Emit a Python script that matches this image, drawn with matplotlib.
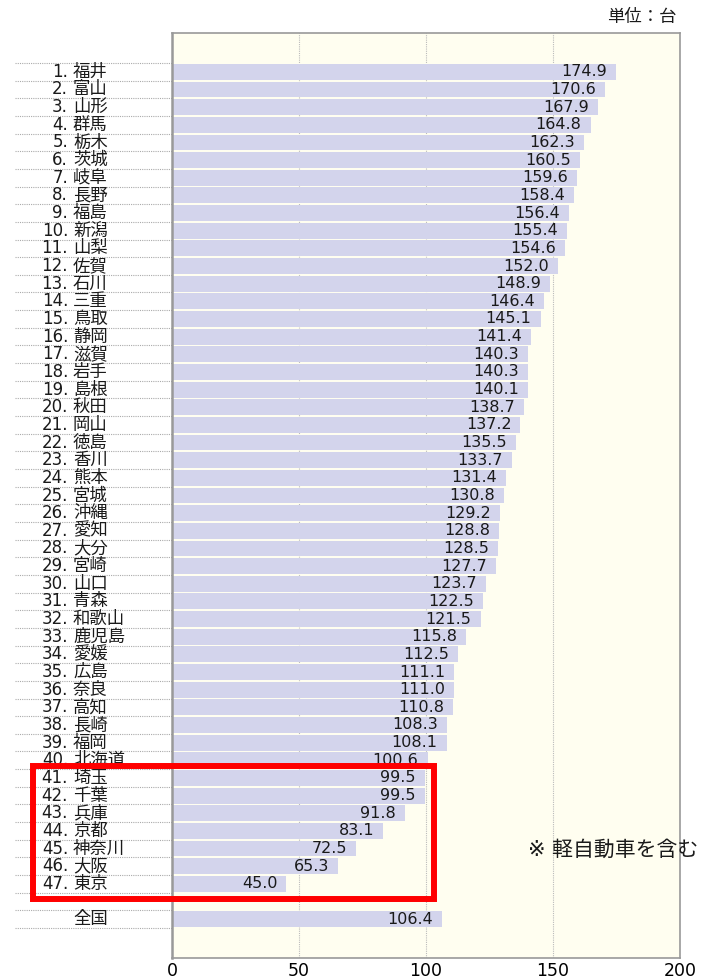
import matplotlib.pyplot as plt
from matplotlib.patches import Rectangle

plt.rcParams['font.family'] = ['DejaVu Sans', 'Noto Sans CJK JP']

ranks = [str(i) + '.' for i in range(1, 48)]
prefs = ['福井', '富山', '山形', '群馬', '栃木', '茨城', '岐阜', '長野', '福島', '新潟',
         '山梨', '佐賀', '石川', '三重', '鳥取', '静岡', '滋賀', '岩手', '島根', '秋田',
         '岡山', '徳島', '香川', '熊本', '宮城', '沖縄', '愛知', '大分', '宮崎', '山口',
         '青森', '和歌山', '鹿児島', '愛媛', '広島', '奈良', '高知', '長崎', '福岡', '北海道',
         '埼玉', '千葉', '兵庫', '京都', '神奈川', '大阪', '東京']
values = [174.9, 170.6, 167.9, 164.8, 162.3, 160.5, 159.6, 158.4, 156.4, 155.4,
          154.6, 152.0, 148.9, 146.4, 145.1, 141.4, 140.3, 140.3, 140.1, 138.7,
          137.2, 135.5, 133.7, 131.4, 130.8, 129.2, 128.8, 128.5, 127.7, 123.7,
          122.5, 121.5, 115.8, 112.5, 111.1, 111.0, 110.8, 108.3, 108.1, 100.6,
          99.5, 99.5, 91.8, 83.1, 72.5, 65.3, 45.0]
national_label = '全国'
national_value = 106.4
xticks = [0, 50, 100, 150, 200]

bar_color = '#d3d4ec'
bg_color = '#fffef0'

fig = plt.figure(figsize=(7.11, 9.8), dpi=100)
ax = fig.add_axes([172 / 711, 1 - 958 / 980, 508 / 711, 925 / 980])
ax.set_facecolor(bg_color)

# prefectures on rows 0..46, one blank row, national average on row 48
rows = list(range(len(prefs))) + [len(prefs) + 1]
all_vals = values + [national_value]
ax.barh(rows, all_vals, height=0.9, color=bar_color, zorder=2)

for y, v in zip(rows, all_vals):
    ax.annotate(f'{v:.1f}', (v, y), xytext=(-6.5, 0), textcoords='offset points',
                ha='right', va='center', fontsize=11.5, color='#1a1a1a', zorder=3)

ax.set_xlim(0, 200)
ax.set_ylim(50.2, -2.2)
ax.set_xticks(xticks)
ax.set_xticklabels([str(t) for t in xticks], fontsize=12.5)
ax.tick_params(axis='x', length=0, pad=3)
ax.set_yticks([])
ax.grid(axis='x', color='#bbbbbb', linestyle=(0, (1, 1)), linewidth=0.8, zorder=1)
for s in ax.spines.values():
    s.set_color('#999999')
    s.set_linewidth(1.2)
ax.spines['left'].set_linewidth(1.8)

# row labels and dotted separators left of the plot
tr = ax.get_yaxis_transform()
for i, (r, p) in enumerate(zip(ranks, prefs)):
    ax.text(-0.2047, i, r, transform=tr, ha='right', va='center', fontsize=12, color='#1a1a1a')
    ax.text(-0.1949, i, p, transform=tr, ha='left', va='center', fontsize=12.5, color='#1a1a1a')
ax.text(-0.1949, rows[-1], national_label, transform=tr, ha='left', va='center',
        fontsize=12.5, color='#1a1a1a')

for b in [k - 0.5 for k in range(len(prefs) + 3)]:
    ax.plot([-0.309, 0], [b, b], transform=tr, color='#aaaaaa', linestyle=(0, (1, 1)),
            linewidth=0.8, clip_on=False)

fig.text(677 / 711, 1 - 17 / 980, '単位：台', ha='right', va='center', fontsize=12.5,
         color='#1a1a1a')
fig.text(698 / 711, 1 - 850 / 980, '※ 軽自動車を含む', ha='right', va='center',
         fontsize=15, color='#1a1a1a')

# highlight for the bottom ranks
fig.patches.append(Rectangle((32.5 / 711, 1 - 899 / 980), 401.5 / 711, 133 / 980,
                             transform=fig.transFigure, fill=False, edgecolor='#ff0000',
                             linewidth=4.3, zorder=10))

fig.savefig('out.png', dpi=100)
